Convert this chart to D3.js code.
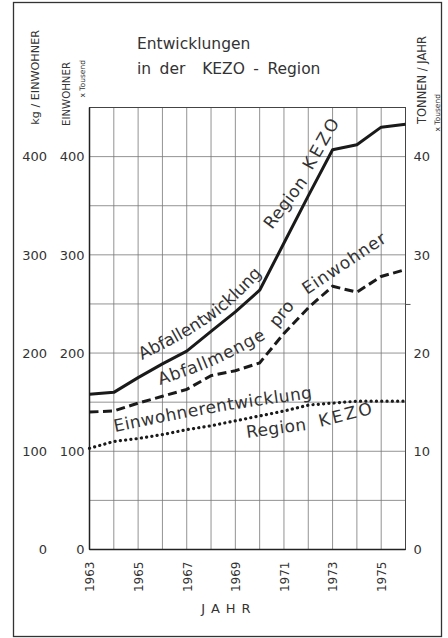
<!DOCTYPE html>
<html><head><meta charset="utf-8">
<script src="https://cdn.jsdelivr.net/npm/d3@7"></script>
<style>
body{margin:0;background:#fff}
svg{display:block}
text{font-family:"DejaVu Sans",sans-serif;fill:#333}
</style>
</head><body><svg id="c" width="448" height="638"></svg>
<script>
// ---- data ----
const years = [1963,1964,1965,1966,1967,1968,1969,1970,1971,1972,1973,1974,1975,1976];
const abfallTonnen = [15.8,16.0,17.5,18.9,20.2,22.2,24.2,26.4,31.2,36.0,40.7,41.2,43.0,43.3]; // x1000 t / Jahr
const abfallProEinwohner = [140,141,149,156,163,177,182,190,220,246,268,262,278,285]; // kg / Einwohner
const einwohner = [103,110,113,117,122,126,131,136,141,147,149,151,151,151]; // x1000
const leftTicks = [0,100,200,300,400];
const rightTicks = [0,10,20,30,40];
const yearTicks = [1963,1965,1967,1969,1971,1973,1975];
const titleLines = ["Entwicklungen","in der  KEZO - Region"];
// curve labels: word + guide baseline in data coordinates (year, left-axis value)
const curveWords = [
  ["Abfallentwicklung", [[1965.16,192.9],[1968.04,233.3],[1970.10,280.5]]],
  ["Region",            [[1970.51,325.3],[1971.99,374.2]]],
  ["KEZO",              [[1972.15,385.3],[1973.35,437.3]]],
  ["Abfallmenge",       [[1965.90,167.5],[1968.04,186.8],[1970.30,215.3]]],
  ["pro",               [[1970.71,225.5],[1971.45,247.9]]],
  ["Einwohner",         [[1971.95,259.1],[1975.28,314.1]]],
  ["Einwohnerentwicklung", [[1964.05,119.6],[1968.04,139.0],[1972.19,154.2]]],
  ["Region",            [[1969.48,113.5],[1971.95,121.7]]],
  ["KEZO",              [[1972.49,124.7],[1974.76,139.0]]]
];

const svg = d3.select("#c");
const L=89.5, R=405.5, T=107.5, B=549.5;
const x = d3.scaleLinear().domain([1963,1976]).range([L,R]);
const y = d3.scaleLinear().domain([0,450]).range([B,T]);
const yR = d3.scaleLinear().domain([0,45]).range([B,T]);

// frame
svg.append("rect").attr("x",13.5).attr("y",2.5).attr("width",428).attr("height",634)
  .attr("fill","none").attr("stroke","#333").attr("stroke-width",1.3);

// grid
const g = svg.append("g");
g.selectAll("line.v").data(d3.range(1963,1977)).join("line")
  .attr("x1",d=>x(d)).attr("x2",d=>x(d)).attr("y1",T).attr("y2",B)
  .attr("stroke","#777").attr("stroke-width",0.8);
g.selectAll("line.h").data(d3.range(0,451,50)).join("line")
  .attr("y1",d=>y(d)).attr("y2",d=>y(d)).attr("x1",L).attr("x2",R)
  .attr("stroke","#777").attr("stroke-width",0.8);
svg.append("rect").attr("x",L).attr("y",T).attr("width",R-L).attr("height",B-T)
  .attr("fill","none").attr("stroke","#444").attr("stroke-width",1);
svg.append("line").attr("x1",L).attr("x2",L).attr("y1",T).attr("y2",B).attr("stroke","#222").attr("stroke-width",1.5);
svg.append("line").attr("x1",L).attr("x2",R).attr("y1",B).attr("y2",B).attr("stroke","#222").attr("stroke-width",1.5);

// axes
function style(sel){ sel.select(".domain").remove(); sel.selectAll("text").attr("font-size",13).attr("fill","#444").attr("font-family","DejaVu Sans"); }
svg.append("g").attr("transform",`translate(${L},0)`)
  .call(d3.axisLeft(y).tickValues(leftTicks).tickSize(0).tickPadding(5)).call(style);
svg.append("g").attr("transform",`translate(47,0)`)
  .call(d3.axisLeft(y).tickValues(leftTicks).tickSize(0).tickPadding(0)).call(style);
svg.append("g").attr("transform",`translate(${R},0)`)
  .call(d3.axisRight(yR).tickValues(rightTicks).tickSize(0).tickPadding(8)).call(style);
svg.append("g").attr("transform",`translate(${R},0)`)
  .call(d3.axisRight(yR).tickValues([25]).tickSize(5).tickFormat(""))
  .call(s=>{s.select(".domain").remove(); s.selectAll("line").attr("stroke","#555");});
const xa = svg.append("g").attr("transform",`translate(0,${B})`)
  .call(d3.axisBottom(x).tickValues(yearTicks).tickFormat(d3.format("d")).tickSize(0)).call(style);
xa.selectAll("text").attr("transform","rotate(-90)").attr("text-anchor","end")
  .attr("x",-12).attr("y",0).attr("dy","0.36em").attr("font-size",12);

// axis titles
svg.append("text").attr("x",229).attr("y",613).attr("text-anchor","middle")
  .attr("font-size",13).attr("letter-spacing",6).attr("fill","#444").text("JAHR");
function vtext(cx, yTop, txt, fs){
  svg.append("text").attr("transform",`translate(${cx},${yTop}) rotate(-90)`)
    .attr("text-anchor","end").attr("dy","0.35em").attr("font-size",fs).attr("fill","#444").text(txt);
}
vtext(35,30,"kg / EINWOHNER",11.2);
vtext(66,62,"EINWOHNER",10.2);
vtext(82,60,"x Tousend",7.5);
vtext(422,36,"TONNEN / JAHR",11.5);
vtext(437,94,"x Tousend",7.5);

// title
svg.selectAll("text.title").data(titleLines).join("text")
  .attr("x",137).attr("y",(d,i)=>49+i*25).attr("font-size",15.5).attr("fill","#333")
  .attr("word-spacing",3.5).style("white-space","pre").text(d=>d);

// data lines
const line = d3.line().x((d,i)=>x(years[i]));
svg.append("path").datum(einwohner)
  .attr("d",line.y(d=>y(d)))
  .attr("fill","none").attr("stroke","#1a1a1a").attr("stroke-width",3.2)
  .attr("stroke-linecap","round").attr("stroke-dasharray","0.1 5.2");
svg.append("path").datum(abfallProEinwohner)
  .attr("d",line.y(d=>y(d)))
  .attr("fill","none").attr("stroke","#1a1a1a").attr("stroke-width",3)
  .attr("stroke-dasharray","9 4.5");
svg.append("path").datum(abfallTonnen)
  .attr("d",line.y(d=>yR(d)))
  .attr("fill","none").attr("stroke","#1a1a1a").attr("stroke-width",3)
  .attr("stroke-linejoin","round");

// labels along curves
const gl = d3.line().x(d=>x(d[0])).y(d=>y(d[1])).curve(d3.curveNatural);
const defs = svg.append("defs");
curveWords.forEach(([txt, guide], i) => {
  const id = "lp"+i;
  const p = defs.append("path").attr("id",id).attr("d",gl(guide));
  const len = p.node().getTotalLength();
  const t = svg.append("text").attr("font-size",17).attr("fill","#222");
  t.append("textPath").attr("href","#"+id).text(txt);
  const nat = t.node().getComputedTextLength();
  t.attr("letter-spacing", (len-nat)/(txt.length));
});
</script></body></html>
